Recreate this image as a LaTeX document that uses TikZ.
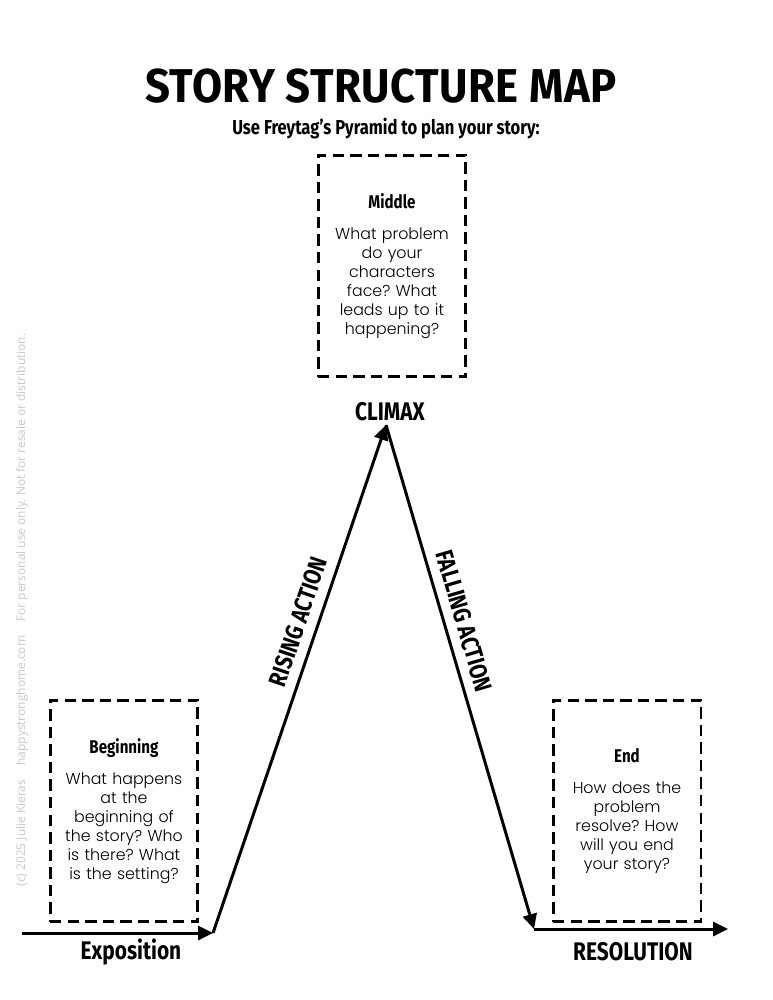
\documentclass[tikz,border=0pt]{standalone}
\usepackage{fontspec}
\setmainfont{Poppins}[UprightFont=* Light]
\newfontfamily\headfont{Fira Sans}[FakeStretch=0.82]
\newfontfamily\titlefont{Fira Sans}[LetterSpace=1, FakeStretch=0.92]
\newfontfamily\notefont{Open Sans}
\usetikzlibrary{arrows.meta, positioning}
\frenchspacing

\newcommand{\BoxText}[2]{{\headfont\bfseries\fontsize{10.5}{12}\selectfont #1}\\[7pt] #2}

\begin{document}
\begin{tikzpicture}[
	x=0.02cm, y=-0.02cm,
	StoryBox/.style={draw, line width=1.7pt, dash pattern=on 6.5pt off 3.5pt,
		minimum width=2.96cm, minimum height=4.44cm, text width=2.6cm,
		align=center, font=\fontsize{9}{10.8}\selectfont},
	Stage/.style={font=\headfont\bfseries\fontsize{14.5}{16}\selectfont},
	Slope/.style={font=\headfont\bfseries\fontsize{14}{16}\selectfont, sloped, above=2pt},
	Plot/.style={line width=1.7pt, -{Triangle[length=8.5pt,width=8pt]}}
	]

\useasboundingbox (0,0) rectangle (773,1000);

% title
\node [font=\titlefont\bfseries\fontsize{27}{30}\selectfont] (title) at (381,86) {STORY STRUCTURE MAP};
\node [font=\headfont\bfseries\fontsize{11.5}{13}\selectfont] (subtitle) at (386,129) {Use Freytag’s Pyramid to plan your story:};

% boxes
\node [StoryBox] (middle) at (392,266) {\BoxText{Middle}{What problem\\ do your\\ characters\\ face? What\\ leads up to it\\ happening?}};
\node [StoryBox] (beginning) at (124,811) {\BoxText{Beginning}{What happens\\ at the\\ beginning of\\ the story? Who\\ is there? What\\ is the setting?}};
\node [StoryBox] (end) at (627,811) {\BoxText{End}{How does the\\ problem\\ resolve? How\\ will you end\\ your story?}};

% plot line
\coordinate (start) at (22,933);
\coordinate (expo) at (213,933);
\coordinate (peak) at (386,425);
\coordinate (fall) at (534,929);
\coordinate (finish) at (728,929);

\draw [Plot] (start) -- (expo);
\draw [Plot] (expo) -- node [Slope, pos=0.6] (rising) {RISING ACTION} (peak);
\draw [Plot] (peak) -- node [Slope, pos=0.4] (falling) {FALLING ACTION} (fall);
\draw [Plot] (fall) -- (finish);

% stage labels
\node [Stage] (climax) at (390,412) {CLIMAX};
\node [Stage] (exposition) at (131,952) {Exposition};
\node [Stage] (resolution) at (633,952) {RESOLUTION};

% credit line
\node [rotate=90, text=black!22, font=\notefont\fontsize{6.8}{8}\selectfont] (credit) at (22,610)
	{(c) 2025 Julie Kieras\hspace{1.2em}happystronghome.com\hspace{1.2em}For personal use only. Not for resale or distribution.};

\end{tikzpicture}
\end{document}
